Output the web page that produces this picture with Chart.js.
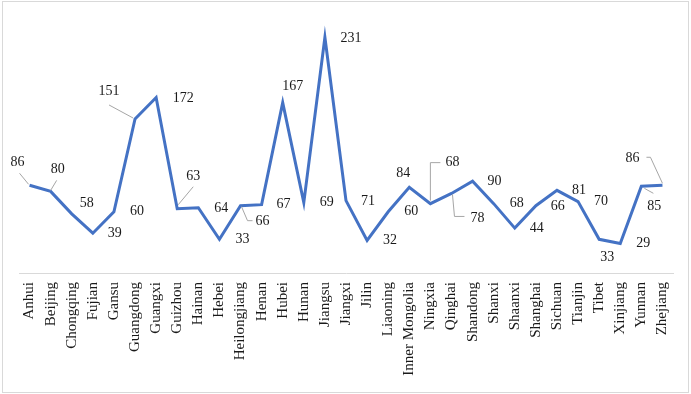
<!DOCTYPE html>
<html>
<head>
<meta charset="utf-8">
<script src="https://cdn.jsdelivr.net/npm/chart.js@4"></script>
<style>
  body { margin: 0; background: #fff; }
  #wrap { width: 691px; height: 394px; }
</style>
</head>
<body>
<div id="wrap"><canvas id="lineChart" width="691" height="394"></canvas></div>
<script>
// Provinces along the x axis
const provinces = ['Anhui', 'Beijing', 'Chongqing', 'Fujian', 'Gansu', 'Guangdong', 'Guangxi',
    'Guizhou', 'Hainan', 'Hebei', 'Heilongjiang', 'Henan', 'Hubei', 'Hunan', 'Jiangsu', 'Jiangxi',
    'Jilin', 'Liaoning', 'Inner Mongolia', 'Ningxia', 'Qinghai', 'Shandong', 'Shanxi', 'Shaanxi',
    'Shanghai', 'Sichuan', 'Tianjin', 'Tibet', 'Xinjiang', 'Yunnan', 'Zhejiang'];

// Counts per province
const counts = [86, 80, 58, 39, 60, 151, 172, 63, 64, 33, 66, 67, 167, 69, 231, 71,
    32, 60, 84, 68, 78, 90, 68, 44, 66, 81, 70, 33, 29, 85, 86];

// Label placement relative to its point (px), like the dragged Excel labels
const labelOffsets = [[-12, -23], [7, -22], [15, -11], [22, 0], [23, 0], [-26, -28], [27, 1],
    [16, -32], [23, 1], [23, 0], [22, 16], [22, 0], [10, -16], [23, 0], [26, 1], [22, 1],
    [23, 0], [23, 0], [-6, -14], [22, -41], [26, 25], [22, 0], [23, 0], [22, 0],
    [22, 1], [22, 0], [23, 0], [8, 18], [23, 0], [13, 20], [-30, -27]];

// Leader lines (relative polylines) for the labels that were moved away
const leaders = {
    0: [[-1, -1], [-10, -12]],
    1: [[0, -1], [6, -11]],
    5: [[-2, -1], [-26, -14]],
    7: [[1, -4], [16, -22]],
    10: [[1, 1], [7, 15], [12, 15]],
    19: [[0, -3], [0, -41], [10, -41]],
    20: [[1, 1], [3, 23], [13, 23]],
    29: [[3, 2], [12, 7]],
    30: [[0, -2], [-12, -28], [-16, -28]]
};

const serif = '"Liberation Serif", "Times New Roman", serif';

const labelPlugin = {
    id: 'pointLabels',
    beforeDraw(chart) {
        const ctx = chart.ctx;
        ctx.save();
        ctx.fillStyle = '#ffffff';
        ctx.fillRect(0, 0, chart.width, chart.height);
        ctx.strokeStyle = '#d9d9d9';
        ctx.lineWidth = 1;
        ctx.strokeRect(2.5, 1.5, 686, 391);
        ctx.restore();
    },
    afterDatasetsDraw(chart) {
        const ctx = chart.ctx;
        const meta = chart.getDatasetMeta(0);
        ctx.save();
        // leaders
        ctx.strokeStyle = '#a6a6a6';
        ctx.lineWidth = 1;
        Object.keys(leaders).forEach(k => {
            const pt = meta.data[k];
            const pts = leaders[k];
            ctx.beginPath();
            pts.forEach((p, j) => {
                const x = pt.x + p[0], y = pt.y + p[1];
                if (j === 0) ctx.moveTo(x, y); else ctx.lineTo(x, y);
            });
            ctx.stroke();
        });
        // labels
        ctx.fillStyle = '#1a1a1a';
        ctx.font = '14px ' + serif;
        ctx.textAlign = 'center';
        ctx.textBaseline = 'middle';
        meta.data.forEach((pt, i) => {
            const off = labelOffsets[i];
            ctx.fillText(String(counts[i]), pt.x + off[0], pt.y + off[1]);
        });
        ctx.restore();
    }
};

new Chart(document.getElementById('lineChart'), {
    type: 'line',
    data: {
        labels: provinces,
        datasets: [{
            data: counts,
            borderColor: '#4472C4',
            borderWidth: 3,
            pointRadius: 0,
            tension: 0,
            fill: false
        }]
    },
    options: {
        responsive: false,
        animation: false,
        layout: { padding: { left: 19, right: 18, top: 18, bottom: 0 } },
        scales: {
            x: {
                offset: true,
                grid: { display: false, drawTicks: false },
                border: { display: true, color: '#d9d9d9', width: 1 },
                ticks: {
                    autoSkip: false,
                    minRotation: 90,
                    maxRotation: 90,
                    padding: 9,
                    color: '#1a1a1a',
                    font: { family: serif, size: 15 }
                },
                afterFit(scale) { scale.height = 121; }
            },
            y: {
                display: false,
                min: 0,
                max: 250
            }
        },
        plugins: {
            legend: { display: false },
            tooltip: { enabled: false }
        }
    },
    plugins: [labelPlugin]
});
</script>
</body>
</html>
